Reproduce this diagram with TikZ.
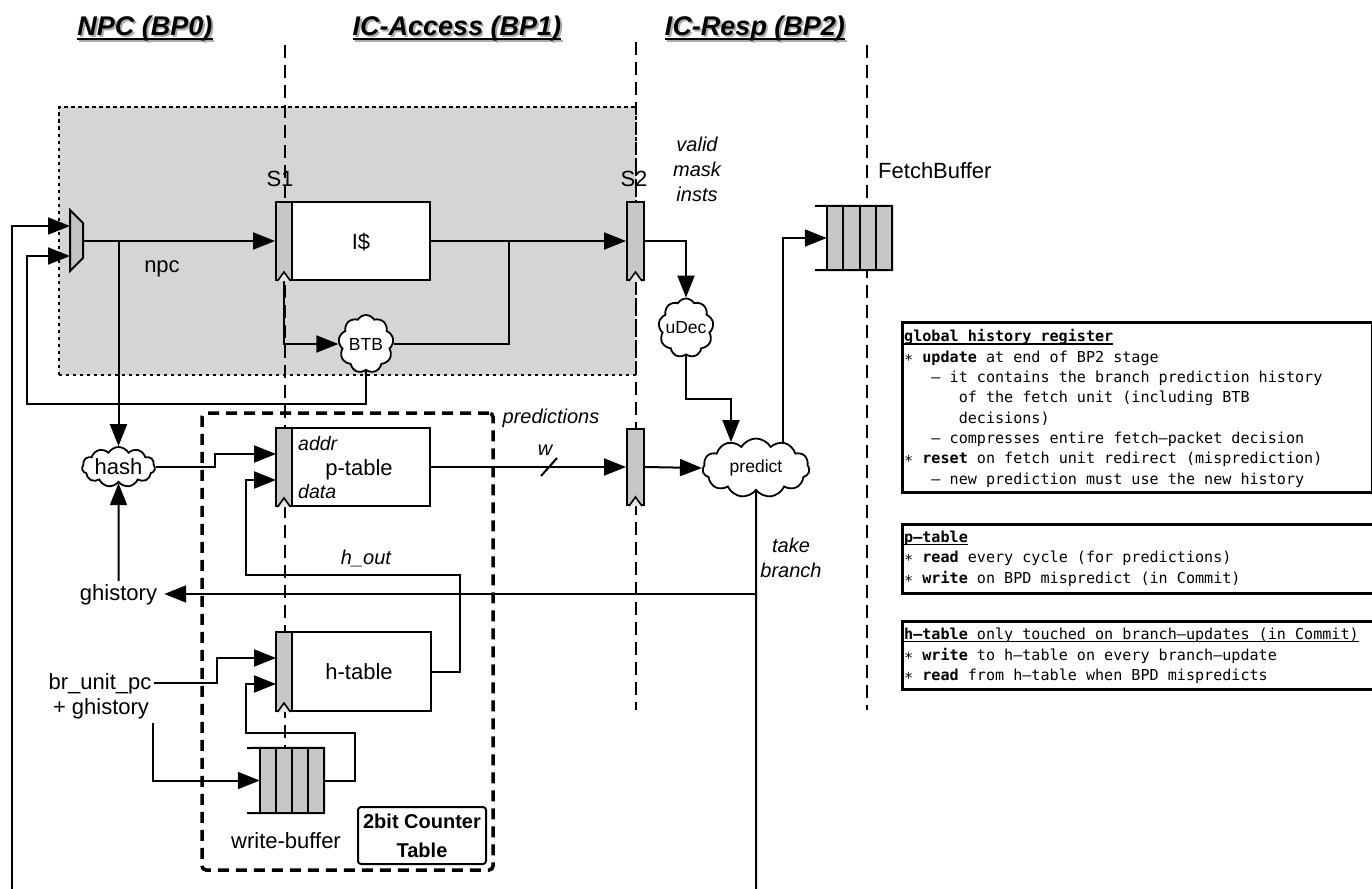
\documentclass[tikz,border=0pt]{standalone}
\usepackage{fontspec}
\setmainfont{Liberation Sans}
\newfontfamily\monof{DejaVu Sans Mono}
\usetikzlibrary{arrows.meta,shapes.symbols}

\definecolor{areagray}{gray}{0.835}
\definecolor{reggray}{gray}{0.78}
\definecolor{muxgray}{gray}{0.76}

\pgfdeclarelayer{bg}
\pgfdeclarelayer{wires}
\pgfsetlayers{bg,wires,main}

\newcommand\fsz[1]{\fontsize{#1}{#1}\selectfont}
\newcommand\ulmono[1]{\setbox0\hbox{#1}\rlap{\rule[-2.6pt]{\wd0}{1.2pt}}\box0}
\newcommand\ulhead[1]{\setbox0\hbox{#1}\rlap{\rule[-4pt]{\wd0}{2.2pt}}\box0}
% clock mark sitting on the bottom edge of a register, pointing inward
\newcommand\clk[1]{\draw[line width=1.6pt,fill=reggray!45] ([xshift=-6.5pt]#1.south) -- ([yshift=9pt]#1.south) -- ([xshift=6.5pt]#1.south);}

\begin{document}
\begin{tikzpicture}[x=1pt,y=-1pt,
  wire/.style={line width=2pt},
  arr/.style={wire,-{Triangle[length=22pt,width=17pt]}},
  reg/.style={draw,line width=2pt,fill=reggray,minimum width=16pt,minimum height=78pt,inner sep=0pt},
  tbl/.style={draw,line width=2pt,fill=white,minimum width=138pt,minimum height=78pt,inner sep=0pt},
  cloudn/.style={cloud,cloud puffs=9,cloud puff arc=120,cloud ignores aspect,draw,line width=1.8pt,fill=white,inner sep=0pt},
  lbl/.style={font=\fsz{22},inner sep=0pt},
  ital/.style={font=\fsz{20}\itshape,inner sep=0pt},
  small/.style={font=\fsz{17.5},inner sep=0pt},
  stagesep/.style={line width=2pt,dash pattern=on 13pt off 7pt},
  head/.style={font=\fsz{27}\bfseries\itshape,inner sep=0pt,anchor=base},
  note/.style={font=\monof\fontsize{15.1}{20.3}\selectfont,align=left,inner sep=0pt,anchor=north west},
  notebox/.style={draw,line width=2.5pt,anchor=north west,inner sep=0pt},
]
\useasboundingbox (0,0) rectangle (1372,888);

% ---------- background: shaded fetch area, stage labels, stage separators
\begin{pgfonlayer}{bg}
  \fill[areagray] (59,107) rectangle (636,375);
  \draw[line width=2pt,dash pattern=on 3.5pt off 3.5pt] (59,375) -- (59,107) -- (636,107) -- (636,375) -- cycle;
  \node[lbl,anchor=base] (s1l) at (280,186) {S1};
  \node[lbl,anchor=base] (s2l) at (634,186) {S2};
  \draw[stagesep] (285,45) -- (285,748);
  \draw[stagesep] (636,42) -- (636,710);
  \draw[stagesep] (867,45) -- (867,710);
\end{pgfonlayer}

% ---------- stage headers
\foreach \nm/\xx/\tx in {h0/145/{NPC (BP0)}, h1/457/{IC-Access (BP1)}, h2/755/{IC-Resp (BP2)}} {
  \node[head,text=gray!65] (\nm s) at (\xx+1.8,37.8) {\ulhead{\tx}};
  \node[head] (\nm) at (\xx,36) {\ulhead{\tx}};
}

% ---------- counter table frame
\node[draw,line width=3.5pt,dash pattern=on 11pt off 7pt,rounded corners=4pt,
      minimum width=291pt,minimum height=457pt,inner sep=0pt] (ctbl) at (347.5,641.5) {};
\node[draw,line width=2pt,rounded corners=3pt,minimum width=128pt,minimum height=57pt,inner sep=0pt] (cnt) at (422,835.5) {};
\node[font=\fsz{20}\bfseries,inner sep=0pt,anchor=base] (cnt1) at (422,828) {2bit Counter};
\node[font=\fsz{20}\bfseries,inner sep=0pt,anchor=base] (cnt2) at (422,857) {Table};

% ---------- next-pc mux
\draw[line width=2pt,fill=muxgray] (70,210) -- (83,223) -- (83,258) -- (70,271) -- cycle;
\coordinate (muxin1) at (70,226);
\coordinate (muxin2) at (70,256);
\coordinate (muxout) at (83,241);

% ---------- instruction cache
\node[tbl] (icache) at (361,241) {};
\node[lbl,anchor=base] (icl) at (361,249) {I\$};
\node[reg] (s1) at (284,241) {};
\clk{s1}
\node[reg,minimum width=17pt] (s2) at (635.5,241) {};
\clk{s2}

% ---------- prediction tables
\node[tbl] (ptab) at (361,467) {};
\node[reg] (preg) at (284,467) {};
\clk{preg}
\node[lbl,anchor=base] (ptl) at (359,475) {p-table};
\node[ital,font=\fsz{19.5}\itshape,anchor=base west] (addrl) at (298,450) {addr};
\node[ital,font=\fsz{19.5}\itshape,anchor=base west] (datal) at (298,498) {data};
\node[reg,minimum width=17pt,minimum height=76pt] (s2p) at (635.5,467) {};
\clk{s2p}

\node[tbl,minimum width=139pt,minimum height=79pt] (htab) at (361.5,671.5) {};
\node[reg,minimum height=79pt] (hreg) at (284,671.5) {};
\clk{hreg}
\node[lbl,anchor=base] (htl) at (359,679) {h-table};

% ---------- write buffer
\node[fill=reggray,minimum width=64pt,minimum height=65pt,inner sep=0pt] (wbuf) at (292,780.5) {};
\draw[wire] (247,748) -- (wbuf.north east) -- (wbuf.south east) -- (247,813);
\foreach \xx in {260,276,292,308} \draw[wire] (\xx,748) -- (\xx,813);
\node[lbl,anchor=base] (wbl) at (286,848) {write-buffer};

% ---------- fetch buffer
\node[fill=reggray,minimum width=65pt,minimum height=64pt,inner sep=0pt] (fbuf) at (859.5,238) {};
\draw[wire] (815,206) -- (fbuf.north east) -- (fbuf.south east) -- (815,270);
\foreach \xx in {827,843.25,859.5,875.75} \draw[wire] (\xx,206) -- (\xx,270);
\node[lbl,anchor=base west] (fbl) at (878,178) {FetchBuffer};

% ---------- combinational clouds
\node[cloudn,minimum width=55pt,minimum height=58pt,label={[small]center:BTB}] (btb) at (366,344) {};
\node[cloudn,minimum width=55pt,minimum height=59pt,label={[small]center:uDec}] (udec) at (686,328) {};
\node[cloudn,cloud puffs=11,minimum width=107pt,minimum height=59pt,label={[small]center:predict}] (predict) at (756,468) {};
\node[cloudn,cloud puffs=11,minimum width=73pt,minimum height=40pt,label={[lbl]center:hash}] (hash) at (118.5,467) {};

% ---------- signal labels
\node[lbl,anchor=base] (npcl) at (162,272) {npc};
\node[ital,anchor=base] (v1) at (697,151) {valid};
\node[ital,anchor=base] (v2) at (697,176) {mask};
\node[ital,anchor=base] (v3) at (697,201) {insts};
\node[ital,anchor=base] (predl) at (551,423) {predictions};
\node[ital,anchor=base] (wl) at (545,455) {w};
\node[ital,anchor=base] (tk1) at (791,552) {take};
\node[ital,anchor=base] (tk2) at (791,577) {branch};
\node[ital,anchor=base] (hout) at (366,564) {h\_out};
\node[lbl,anchor=base,inner xsep=7pt,inner ysep=3pt] (ghist) at (118.5,600) {ghistory};
\node[lbl,anchor=base,inner xsep=2pt] (brpc) at (100,689) {br\_unit\_pc};
\node[lbl,anchor=base] (brgh) at (101,714) {+ ghistory};

% ---------- wiring
\coordinate (npcj) at (118.5,241);
\coordinate (icj) at (509,241);
\coordinate (tbj) at (756,594);
\coordinate (loopA) at (12,890);
\coordinate (loopB) at (756,890);
\coordinate (predin) at (731,442);
\coordinate (predout) at (783,460);
\coordinate (paddr) at (276,454);
\coordinate (pdata) at (276,480);
\coordinate (haddr) at (276,658);
\coordinate (hdata) at (276,684);
\coordinate (wbin) at (153,723);

\begin{pgfonlayer}{wires}
  \draw[arr] (muxout) -- (s1.west);
  \draw[arr] (npcj) -- (hash.north);
  \draw[arr] (s1.south) |- (btb.west);
  \draw[arr] (icache.east) -- (s2.west);
  \draw[wire] (icj) |- (btb.east);
  \draw[arr] (btb.south) |- (27,404) |- (muxin2);
  \draw[arr] (loopA) |- (muxin1);
  \draw[arr] (s2.east) -| (udec.north);
  \draw[arr] (udec.south) |- (731,399) -- (predin);
  \draw[arr] (predout) |- (fbuf.west);
  \draw[arr] (ptab.east) -- (s2p.west);
  \draw[wire] (541,476) -- (557,458);
  \draw[arr] (s2p.east) -- (predict.west);
  \draw[wire] (predict.south) -- (loopB);
  \draw[arr] (tbj) -- (tbj -| ghist.east);
  \draw[arr] (ghist.north) -- (hash.south);
  \draw[arr] (hash.east) -| (215,454) -- (paddr);
  \draw[arr] (htab.east) -| (460,575) -| (246,480) -- (pdata);
  \draw[arr] (brpc.east) -| (217,658) -- (haddr);
  \draw[arr] (wbin) |- (wbuf.west);
  \draw[arr] (wbuf.east) -| (355,733) -| (246,684) -- (hdata);
\end{pgfonlayer}

% ---------- notes
\node[notebox,minimum width=470pt,minimum height=170pt] (ghrbox) at (901,321) {};
\node[note] (ghrtxt) at (904,329.5) {%
\ulmono{\textbf{global history register}}\\
∗ \textbf{update} at end of BP2 stage\\
\phantom{000}– it contains the branch prediction history\\
\phantom{000000}of the fetch unit (including BTB\\
\phantom{000000}decisions)\\
\phantom{000}– compresses entire fetch–packet decision\\
∗ \textbf{reset} on fetch unit redirect (misprediction)\\
\phantom{000}– new prediction must use the new history};

\node[notebox,minimum width=480pt,minimum height=69pt] (pbox) at (901,523) {};
\node[note] (ptxt) at (904,531) {%
\ulmono{\textbf{p–table}}\\
∗ \textbf{read} every cycle (for predictions)\\
∗ \textbf{write} on BPD mispredict (in Commit)};

\node[notebox,minimum width=480pt,minimum height=68pt] (hbox) at (901,620) {};
\node[note] (htxt) at (904,628) {%
\ulmono{\textbf{h–table} only touched on branch–updates (in Commit)}\\
∗ \textbf{write} to h–table on every branch–update\\
∗ \textbf{read} from h–table when BPD mispredicts};
\end{tikzpicture}
\end{document}
